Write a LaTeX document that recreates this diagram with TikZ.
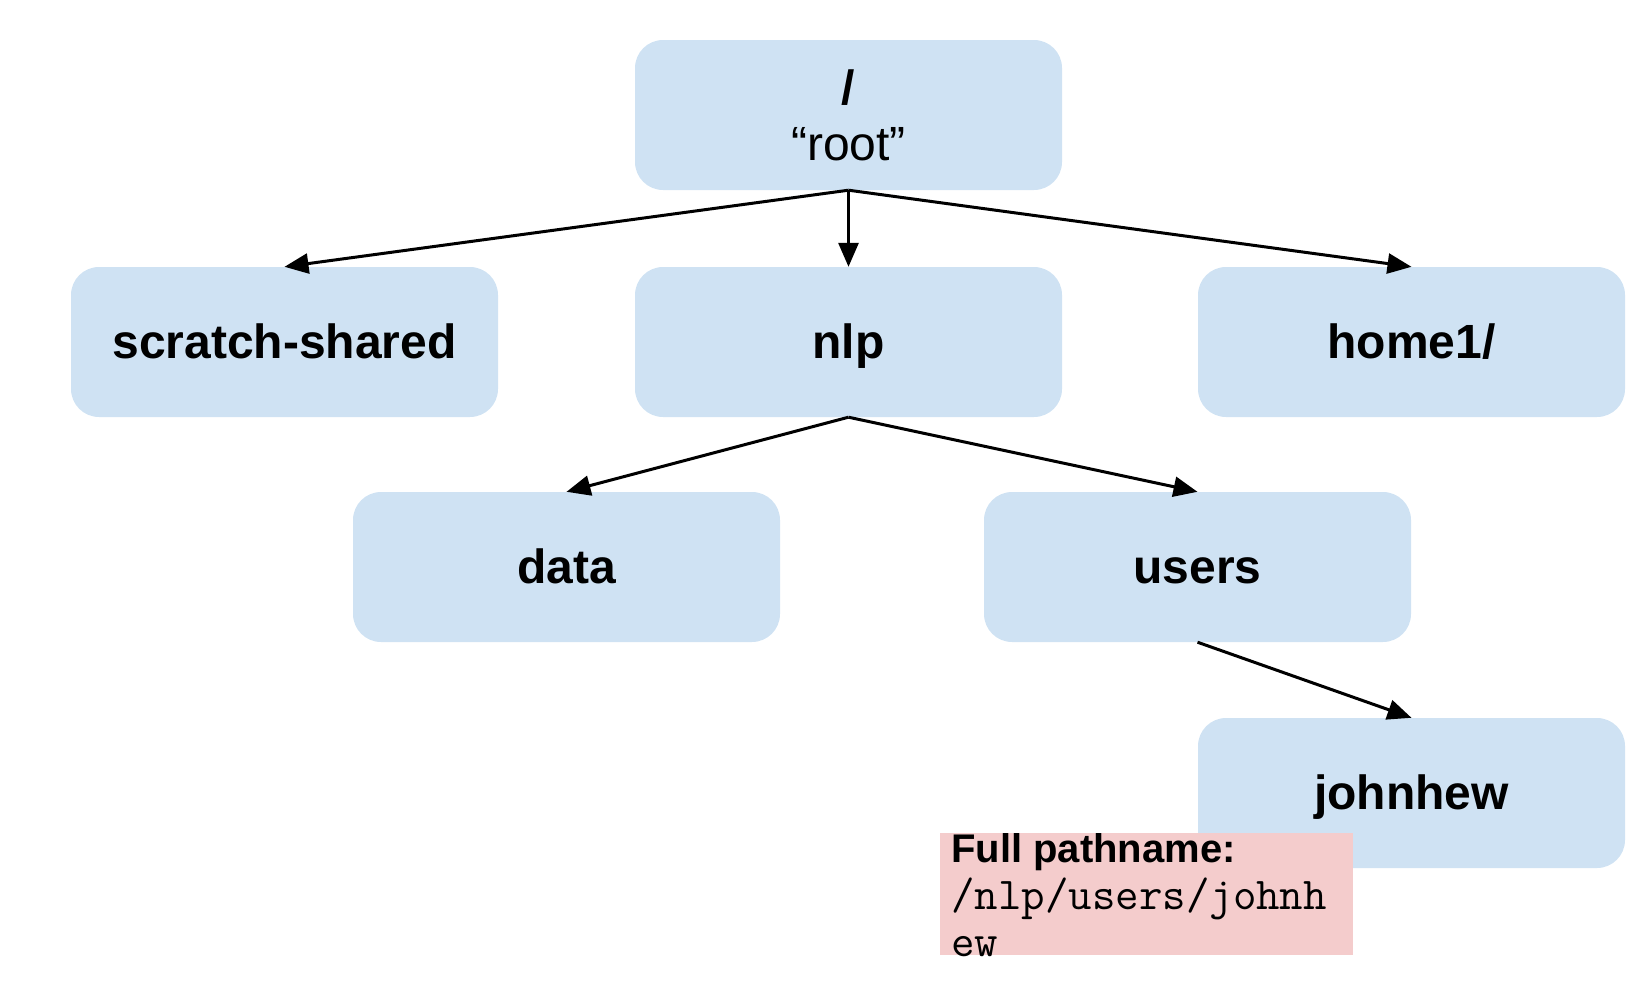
\documentclass[tikz,border=0pt]{standalone}
\usepackage{fontspec}
\setmainfont{Liberation Sans}
\usetikzlibrary{arrows.meta}
\definecolor{boxblue}{HTML}{CFE2F3}
\definecolor{boxpink}{HTML}{F4CCCC}
\begin{document}
\begin{tikzpicture}[x=1pt,y=-1pt,
  dirbox/.style={fill=boxblue,rounded corners=28pt,minimum width=427pt,minimum height=150pt,inner sep=0pt,
    font=\fontsize{48}{58}\selectfont\bfseries},
  leaf/.style={dirbox,text height=40pt,text depth=8pt},
  conn/.style={line width=3pt,-{Triangle[length=24pt,width=20pt]}},
  notebox/.style={fill=boxpink,minimum width=413pt,minimum height=122pt,inner sep=0pt},
  notetext/.style={anchor=base west,inner sep=0pt,font=\fontsize{40}{47}\selectfont},
  notemono/.style={notetext,font=\fontsize{45.6}{47}\selectfont\ttfamily}]
\useasboundingbox (0,0) rectangle (1633,999);
\node[dirbox,align=center] (root) at (848.5,115) {/\\[-2pt]{\mdseries “root”}};
\node[leaf] (scratch) at (284.5,342) {scratch-shared};
\node[leaf] (nlp) at (848.5,342) {nlp};
\node[leaf] (home) at (1411.5,342) {home1/};
\node[leaf] (data) at (566.5,567) {data};
\node[leaf] (users) at (1197.5,567) {users};
\node[leaf] (john) at (1411.5,793) {johnhew};
\draw[conn] (root.south) -- (scratch.north);
\draw[conn] (root.south) -- (nlp.north);
\draw[conn] (root.south) -- (home.north);
\draw[conn] (nlp.south) -- (data.north);
\draw[conn] (nlp.south) -- (users.north);
\draw[conn] (users.south) -- (john.north);
\node[notebox] (note) at (1146.5,894) {};
\node[notetext] (notea) at (951,862) {\bfseries Full pathname:};
\node[notemono] (noteb) at (951,909) {/nlp/users/johnh};
\node[notemono] (notec) at (951,956) {ew};
\end{tikzpicture}
\end{document}
